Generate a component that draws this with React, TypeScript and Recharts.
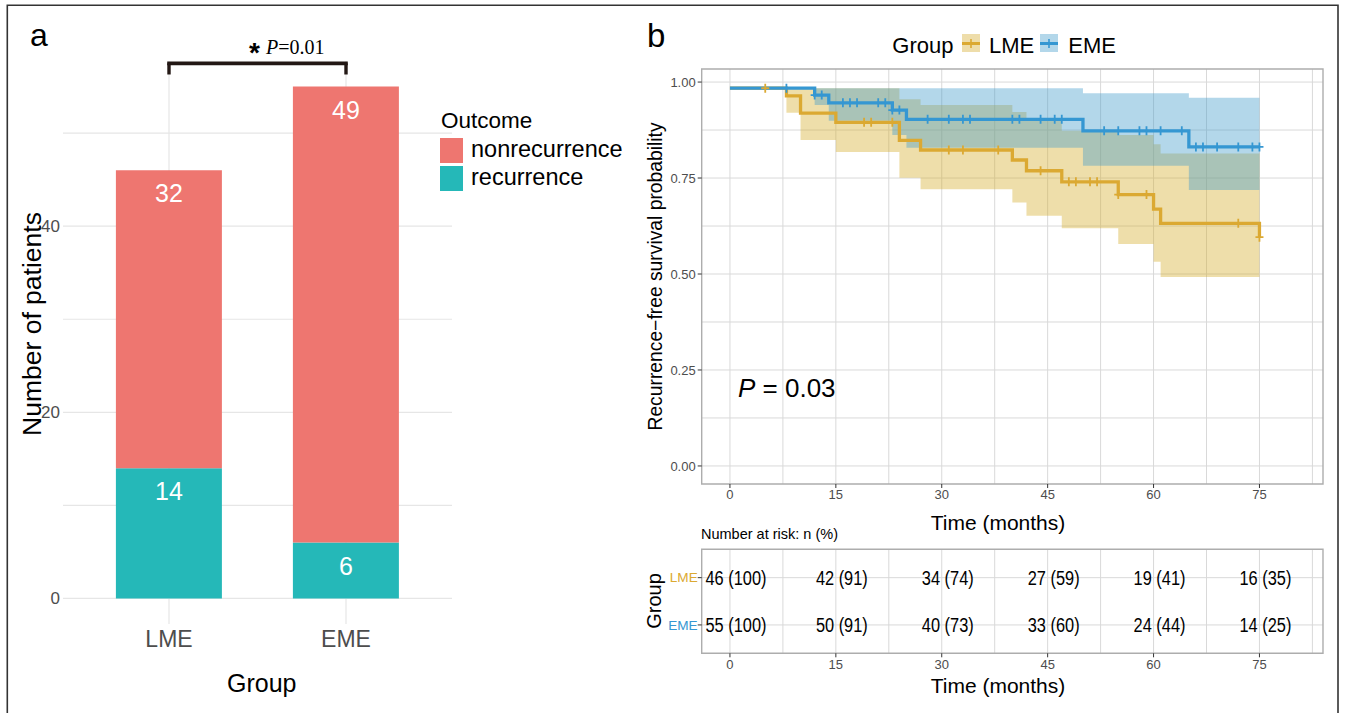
import React from "react";
import {
  BarChart,
  Bar,
  XAxis,
  YAxis,
  CartesianGrid,
  LabelList,
  ReferenceLine,
  ReferenceArea,
  ComposedChart,
  Line,
  Area,
  Scatter,
} from "recharts";

// ---- panel a: outcome by group ----
const groups = ["LME", "EME"];
const recurrence = [14, 6];
const nonrecurrence = [32, 49];

// ---- panel b: Kaplan-Meier steps ----
const lmeTimes = [0, 8, 10, 15, 24, 27, 40, 42, 47, 55, 60, 61, 75];
const lmeSurv = [0.984, 0.964, 0.919, 0.895, 0.848, 0.823, 0.797, 0.769, 0.74, 0.707, 0.669, 0.632, 0.596];
const lmeUpper = [0.984, 0.984, 0.984, 0.984, 0.955, 0.94, 0.922, 0.904, 0.873, 0.862, 0.838, 0.814, 0.814];
const lmeLower = [0.984, 0.92, 0.849, 0.818, 0.751, 0.721, 0.686, 0.652, 0.619, 0.578, 0.532, 0.492, 0.492];

const emeTimes = [0, 12, 14, 23, 25, 50, 65, 75];
const emeSurv = [0.984, 0.966, 0.946, 0.927, 0.903, 0.873, 0.831, 0.831];
const emeUpper = [0.984, 0.984, 0.984, 0.984, 0.984, 0.971, 0.959, 0.959];
const emeLower = [0.984, 0.94, 0.899, 0.862, 0.829, 0.782, 0.719, 0.719];

const lmeCensorT = [5, 19, 20, 23, 31, 33, 38, 44, 48, 49, 51, 52, 55, 59, 72, 75];
const lmeCensorS = [0.984, 0.895, 0.895, 0.895, 0.823, 0.823, 0.823, 0.769, 0.74, 0.74, 0.74, 0.74, 0.707, 0.707, 0.632, 0.596];
const emeCensorT = [8, 12, 13, 16, 17, 18, 21, 22, 23, 24, 28, 31, 33, 34, 40, 41, 44, 46, 47, 53, 55, 58, 59, 61, 64, 66, 67, 69, 72, 74, 75];
const emeCensorS = [
  0.984, 0.966, 0.966, 0.946, 0.946, 0.946, 0.946, 0.946, 0.927, 0.927,
  0.903, 0.903, 0.903, 0.903, 0.903, 0.903, 0.903, 0.903, 0.903,
  0.873, 0.873, 0.873, 0.873, 0.873, 0.873,
  0.831, 0.831, 0.831, 0.831, 0.831, 0.831,
];

// ---- risk table ----
const riskTimes = [0, 15, 30, 45, 60, 75];
const lmeRisk = [46, 42, 34, 27, 19, 16];
const lmePct = [100, 91, 74, 59, 41, 35];
const emeRisk = [55, 50, 40, 33, 24, 14];
const emePct = [100, 91, 73, 60, 44, 25];
const riskGroups = ["LME", "EME"];
const riskRows = [2, 1];

const timeTicks = [0, 15, 30, 45, 60, 75];
const timeGrid = [0, 7.5, 15, 22.5, 30, 37.5, 45, 52.5, 60, 67.5, 75, 82.5];
const survTicks = [0, 0.25, 0.5, 0.75, 1];
const survGrid = [0, 0.125, 0.25, 0.375, 0.5, 0.625, 0.75, 0.875, 1];

const SANS = "'Liberation Sans', Arial, Helvetica, sans-serif";
const SERIF = "'Liberation Serif', 'Times New Roman', serif";
const RED = "#EE7670";
const TEAL = "#25B8B8";
const LME_COLOR = "#DBA932";
const EME_COLOR = "#3597D2";
const AXIS_GRAY = "#4D4D4D";

const barData = groups.map((g, i) => ({
  group: g,
  recurrence: recurrence[i],
  nonrecurrence: nonrecurrence[i],
}));

const lmeLine = lmeTimes.map((t, i) => ({ t, s: lmeSurv[i] }));
const emeLine = emeTimes.map((t, i) => ({ t, s: emeSurv[i] }));
const lmeBand = lmeTimes.map((t, i) => ({ t, band: [lmeLower[i], lmeUpper[i]] }));
const emeBand = emeTimes.map((t, i) => ({ t, band: [emeLower[i], emeUpper[i]] }));
const lmeCens = lmeCensorT.map((t, i) => ({ t, s: lmeCensorS[i] }));
const emeCens = emeCensorT.map((t, i) => ({ t, s: emeCensorS[i] }));

const lmeRiskData = riskTimes.map((t, i) => ({ t, row: 2, label: `${lmeRisk[i]} (${lmePct[i]})` }));
const emeRiskData = riskTimes.map((t, i) => ({ t, row: 1, label: `${emeRisk[i]} (${emePct[i]})` }));

const renderBarLabel = (props: any) => {
  const { x, y, width, value } = props;
  return (
    <text x={x + width / 2} y={y + 32} textAnchor="middle" fill="#fff" fontSize={25} fontFamily={SANS}>
      {value}
    </text>
  );
};

const plusShape = (color: string) => (props: any) => {
  const { cx, cy } = props;
  if (cx == null || cy == null) return <g />;
  return (
    <g stroke={color} strokeWidth={1.8}>
      <line x1={cx - 4} x2={cx + 4} y1={cy} y2={cy} />
      <line x1={cx} x2={cx} y1={cy - 4.5} y2={cy + 4.5} />
    </g>
  );
};

// table numbers are set in a narrow face in the original; squeeze them a bit
const riskText = (props: any) => {
  const { cx, cy, payload } = props;
  if (cx == null || cy == null) return <g />;
  return (
    <g transform={`translate(${cx + 6} ${cy + 7}) scale(0.84 1)`}>
      <text x={0} y={0} textAnchor="middle" fontSize={19.5} fontFamily={SANS} fill="#000">
        {payload.label}
      </text>
    </g>
  );
};

const renderRiskTick = (props: any) => {
  const { x, y, payload } = props;
  const idx = riskRows.indexOf(payload.value);
  return (
    <text x={x} y={y + 4.8} textAnchor="end" fontSize={13.6} fontFamily={SANS} fill={idx === 0 ? LME_COLOR : EME_COLOR}>
      {riskGroups[idx]}
    </text>
  );
};

export default function App() {
  return (
    <div
      style={{
        position: "absolute",
        left: 0,
        top: 0,
        width: 1345,
        height: 713,
        background: "#fff",
        overflow: "hidden",
        fontFamily: SANS,
      }}
    >
      {/* panel a */}
      <div style={{ position: "absolute", left: 0, top: 0 }}>
        <BarChart
          width={470}
          height={660}
          data={barData}
          margin={{ top: 61, right: 18, bottom: 0, left: 3 }}
          barCategoryGap="20%"
        >
          <CartesianGrid
            stroke="#E6E6E6"
            strokeWidth={1.2}
            horizontalValues={[0, 10, 20, 30, 40, 50]}
            syncWithTicks
          />
          <XAxis
            dataKey="group"
            padding={{ left: 17.5, right: 17.5 }}
            height={36}
            interval={0}
            tickLine={false}
            axisLine={false}
            tickSize={0}
            tickMargin={7}
            tick={{ fontSize: 23, fill: AXIS_GRAY, fontFamily: SANS }}
          />
          <YAxis
            type="number"
            domain={[-2.75, 57.75]}
            ticks={[0, 20, 40]}
            allowDataOverflow
            width={60}
            tickLine={false}
            axisLine={false}
            tickSize={0}
            tickMargin={3}
            tick={{ fontSize: 17, fill: AXIS_GRAY, fontFamily: SANS }}
          />
          <Bar dataKey="recurrence" stackId="a" fill={TEAL} isAnimationActive={false}>
            <LabelList dataKey="recurrence" content={renderBarLabel} />
          </Bar>
          <Bar dataKey="nonrecurrence" stackId="a" fill={RED} isAnimationActive={false}>
            <LabelList dataKey="nonrecurrence" content={renderBarLabel} />
          </Bar>
          <ReferenceLine
            segment={[{ x: "LME", y: 57.5 }, { x: "EME", y: 57.5 }]}
            stroke="#231815"
            strokeWidth={3.6}
            strokeLinecap="square"
            ifOverflow="visible"
          />
          <ReferenceLine
            segment={[{ x: "LME", y: 57.5 }, { x: "LME", y: 56.3 }]}
            stroke="#231815"
            strokeWidth={3.4}
            ifOverflow="visible"
          />
          <ReferenceLine
            segment={[{ x: "EME", y: 57.5 }, { x: "EME", y: 56.3 }]}
            stroke="#231815"
            strokeWidth={3.4}
            ifOverflow="visible"
          />
        </BarChart>
      </div>

      {/* panel b: survival curves */}
      <div style={{ position: "absolute", left: 640, top: 60 }}>
        <ComposedChart width={700} height={454} margin={{ top: 9, right: 17, bottom: 0, left: 11.7 }}>
          <CartesianGrid stroke="#D9D9D9" horizontalValues={survGrid} verticalValues={timeGrid} />
          <XAxis
            type="number"
            dataKey="t"
            domain={[-4, 84]}
            ticks={timeTicks}
            allowDataOverflow
            height={30}
            tickSize={4}
            tickMargin={2}
            axisLine={false}
            tickLine={{ stroke: "#333" }}
            tick={{ fontSize: 13, fill: AXIS_GRAY, fontFamily: SANS }}
          />
          <YAxis
            type="number"
            domain={[-0.047, 1.034]}
            ticks={survTicks}
            allowDataOverflow
            tickFormatter={(v: number) => v.toFixed(2)}
            width={50}
            tickSize={4}
            tickMargin={2}
            axisLine={false}
            tickLine={{ stroke: "#333" }}
            tick={{ fontSize: 13, fill: AXIS_GRAY, fontFamily: SANS }}
          />
          <Area
            data={lmeBand}
            dataKey="band"
            type="stepAfter"
            fill="#D4AC2A"
            fillOpacity={0.4}
            stroke="none"
            isAnimationActive={false}
          />
          <Area
            data={emeBand}
            dataKey="band"
            type="stepAfter"
            fill="#419BCA"
            fillOpacity={0.4}
            stroke="none"
            isAnimationActive={false}
          />
          <Line data={lmeLine} dataKey="s" type="stepAfter" stroke={LME_COLOR} strokeWidth={3.3} dot={false} isAnimationActive={false} />
          <Line data={emeLine} dataKey="s" type="stepAfter" stroke={EME_COLOR} strokeWidth={3.3} dot={false} isAnimationActive={false} />
          <Scatter data={lmeCens} dataKey="s" shape={plusShape(LME_COLOR)} isAnimationActive={false} />
          <Scatter data={emeCens} dataKey="s" shape={plusShape(EME_COLOR)} isAnimationActive={false} />
          <ReferenceArea
            x1={-4}
            x2={84}
            y1={-0.047}
            y2={1.034}
            fill="none"
            stroke="#ADADAD"
            strokeWidth={1.4}
            ifOverflow="visible"
          />
        </ComposedChart>
      </div>

      {/* panel b: risk table */}
      <div style={{ position: "absolute", left: 640, top: 540 }}>
        <ComposedChart width={700} height={143.3} margin={{ top: 9.3, right: 17, bottom: 0, left: 11.7 }}>
          <CartesianGrid stroke="#D9D9D9" horizontalValues={riskRows} verticalValues={timeGrid} />
          <XAxis
            type="number"
            dataKey="t"
            domain={[-4, 84]}
            ticks={timeTicks}
            allowDataOverflow
            height={30}
            tickSize={4}
            tickMargin={2}
            axisLine={false}
            tickLine={{ stroke: "#333" }}
            tick={{ fontSize: 13, fill: AXIS_GRAY, fontFamily: SANS }}
          />
          <YAxis
            type="number"
            domain={[0.4, 2.6]}
            ticks={[1, 2]}
            allowDataOverflow
            width={50}
            tickSize={4}
            tickMargin={0}
            axisLine={false}
            tickLine={{ stroke: "#333" }}
            tick={renderRiskTick}
          />
          <Scatter data={lmeRiskData} dataKey="row" shape={riskText} isAnimationActive={false} />
          <Scatter data={emeRiskData} dataKey="row" shape={riskText} isAnimationActive={false} />
          <ReferenceArea
            x1={-4}
            x2={84}
            y1={0.4}
            y2={2.6}
            fill="none"
            stroke="#ADADAD"
            strokeWidth={1.4}
            ifOverflow="visible"
          />
        </ComposedChart>
      </div>

      {/* titles, legends, annotations */}
      <svg
        width={1345}
        height={713}
        style={{ position: "absolute", left: 0, top: 0, pointerEvents: "none" }}
        fontFamily={SANS}
      >
        <path d="M7.3 713 V5.3 H1338 V713" fill="none" stroke="#333" strokeWidth={1.6} />

        <text x={30} y={46} fontSize={32}>a</text>
        <text x={647} y={47} fontSize={33}>b</text>

        {/* significance */}
        <text x={249} y={62} fontSize={28} fontWeight="bold">*</text>
        <text x={266} y={53.5} fontSize={20} fontFamily={SERIF}>
          <tspan fontStyle="italic">P</tspan>=0.01
        </text>

        <text transform="translate(41 324) rotate(-90)" textAnchor="middle" fontSize={26.5}>
          Number of patients
        </text>
        <text x={261.7} y={692} textAnchor="middle" fontSize={25}>Group</text>

        {/* legend a */}
        <text x={441} y={127.5} fontSize={22.5}>Outcome</text>
        <rect x={440} y={138} width={23} height={25} fill={RED} />
        <rect x={440} y={166} width={23} height={25} fill={TEAL} />
        <text x={471} y={157} fontSize={23.5}>nonrecurrence</text>
        <text x={471} y={185} fontSize={23.5}>recurrence</text>

        {/* legend b */}
        <text x={892.3} y={52.7} fontSize={22}>Group</text>
        <rect x={962} y={34} width={18} height={18} fill="#EEDDAA" />
        <line x1={962} x2={980} y1={43.5} y2={43.5} stroke={LME_COLOR} strokeWidth={3} />
        <line x1={971} x2={971} y1={39} y2={48} stroke={LME_COLOR} strokeWidth={1.6} />
        <text x={989} y={52.7} fontSize={22}>LME</text>
        <rect x={1040} y={34} width={18} height={18} fill="#B3D7EA" />
        <line x1={1040} x2={1058} y1={43.5} y2={43.5} stroke={EME_COLOR} strokeWidth={3} />
        <line x1={1049} x2={1049} y1={39} y2={48} stroke={EME_COLOR} strokeWidth={1.6} />
        <text x={1068.3} y={52.7} fontSize={22}>EME</text>

        <text x={738} y={397} fontSize={26}>
          <tspan fontStyle="italic">P</tspan> = 0.03
        </text>

        <text transform="translate(662 276.5) rotate(-90)" textAnchor="middle" fontSize={19.3}>
          Recurrence−free survival probability
        </text>
        <text x={998} y={530} textAnchor="middle" fontSize={21}>Time (months)</text>

        <text x={701} y={539} fontSize={14.5}>Number at risk: n (%)</text>
        <text transform="translate(661 601) rotate(-90)" textAnchor="middle" fontSize={20}>Group</text>
        <text x={998} y={693} textAnchor="middle" fontSize={21}>Time (months)</text>
      </svg>
    </div>
  );
}
